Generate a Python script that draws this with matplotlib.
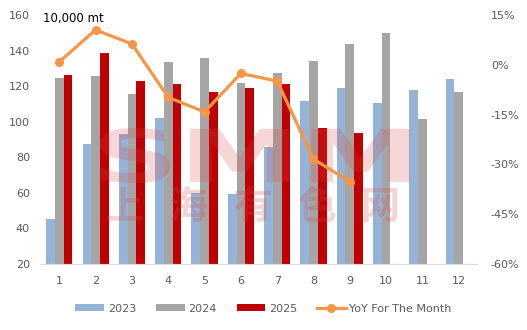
import matplotlib.pyplot as plt
import numpy as np
from matplotlib.textpath import TextPath
from matplotlib.patches import PathPatch
from matplotlib.font_manager import FontProperties
from matplotlib.transforms import Affine2D

months = ["1", "2", "3", "4", "5", "6", "7", "8", "9", "10", "11", "12"]
y2023 = [45.3, 87.5, 93.1, 102.1, 60.1, 59.5, 85.8, 111.6, 118.9, 110.5, 117.8, 124.0]
y2024 = [124.6, 125.7, 115.6, 133.5, 135.8, 121.7, 127.4, 134.1, 143.7, 149.8, 101.5, 116.7]
y2025 = [126.2, 138.8, 122.9, 121.2, 116.7, 118.9, 121.2, 96.4, 93.6]
yoy = [0.9, 10.5, 6.3, -9.8, -14.2, -2.6, -4.9, -28.4, -35.2]

plt.rcParams['font.family'] = ['DejaVu Sans', 'Noto Sans CJK SC']

W, H = 527, 330
fig = plt.figure(figsize=(W / 100, H / 100), dpi=100)
ax = fig.add_axes([0.078, 0.2, 0.827, 0.7545])
ax2 = ax.twinx()

x = np.arange(len(months))
w = 0.24
ax.bar(x - w, y2023, w, color='#95B3D7', label='2023', zorder=2)
ax.bar(x, y2024, w, color='#A5A5A5', label='2024', zorder=2)
ax.bar(np.arange(len(y2025)) + w, y2025, w, color='#C00000', label='2025', zorder=2)

ax2.plot(np.arange(len(yoy)), yoy, color='#F79646', lw=2.3, marker='o', ms=5.5,
         label='YoY For The Month', zorder=3)

ax.set_xlim(-0.5, 11.5)
ax.set_ylim(20, 160)
ax.set_yticks(range(20, 161, 20))
ax.set_xticks(x)
ax.set_xticklabels(months)
ax2.set_ylim(-60, 15)
ax2.set_yticks(range(-60, 16, 15))
ax2.set_yticklabels([f"{v}%" for v in range(-60, 16, 15)])

for a in (ax, ax2):
    for s in a.spines.values():
        s.set_visible(False)
    a.tick_params(length=0, labelsize=8, colors='#595959')
ax.spines['bottom'].set_visible(True)
ax.spines['bottom'].set_color('#D9D9D9')
ax.tick_params(axis='x', pad=9)
ax.tick_params(axis='y', pad=8)
ax2.tick_params(axis='y', pad=10)

fig.text(0.082, 0.945, "10,000 mt", fontsize=8.5, color='black', va='center')

# watermark: stretched "SMM" over the bars, under the line
wm_color = '#D84848'
tp = TextPath((0, 0), "SMM", prop=FontProperties(family='DejaVu Sans', weight='bold'), size=10)
ext = tp.get_extents()
bx0, bx1 = 100 / W, 410 / W
by0, by1 = 1 - 183 / H, 1 - 128 / H
tr = (Affine2D().translate(-ext.x0, -ext.y0)
      .scale((bx1 - bx0) / ext.width, (by1 - by0) / ext.height)
      .translate(bx0, by0))
ax2.add_patch(PathPatch(tr.transform_path(tp), transform=fig.transFigure,
                        facecolor=wm_color, edgecolor='none', alpha=0.22,
                        zorder=2.5, clip_on=False))
for i, ch in enumerate("上海有色网"):
    ax2.text((124 + i * 64) / W, 1 - 207 / H, ch, transform=fig.transFigure,
             fontsize=28, fontweight='bold', color=wm_color, alpha=0.24,
             ha='center', va='center', zorder=2.5,
             family=['Noto Sans CJK SC', 'DejaVu Sans'])

h1, l1 = ax.get_legend_handles_labels()
h2, l2 = ax2.get_legend_handles_labels()
fig.legend(h1 + h2, l1 + l2, loc='center', bbox_to_anchor=(0.5, 0.065), ncol=4,
           frameon=False, fontsize=8, labelcolor='#595959', handlelength=2.6,
           handleheight=0.6, columnspacing=1.8, handletextpad=0.3)

fig.savefig('out.png', dpi=100)
